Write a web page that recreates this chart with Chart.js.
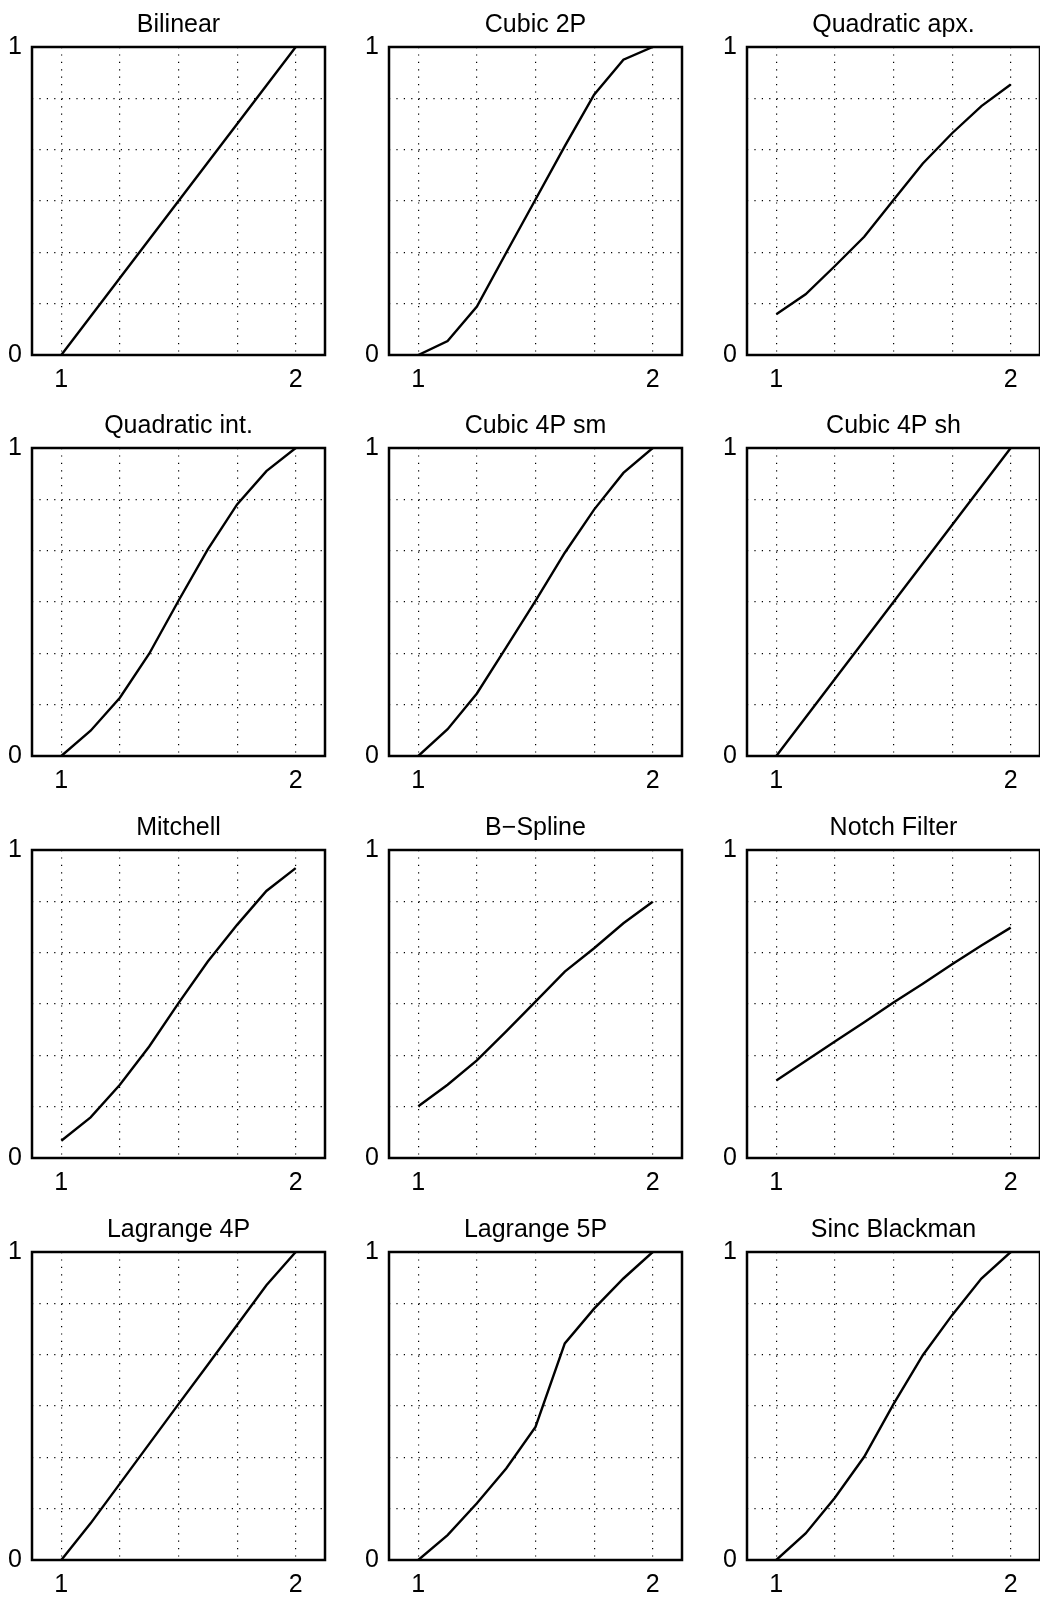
<!DOCTYPE html>
<html>
<head>
<meta charset="utf-8">
<script src="https://cdn.jsdelivr.net/npm/chart.js@4.4.1/dist/chart.umd.min.js"></script>
<style>
html, body { margin: 0; padding: 0; background: #fff; overflow: hidden; width: 1040px; height: 1606px; }
#wrap { position: relative; width: 1040px; height: 1606px; overflow: hidden; }
canvas { position: absolute; }
</style>
</head>
<body>
<div id="wrap"></div>
<script>
// ---- data ----
const panelTitles = ['Bilinear', 'Cubic 2P', 'Quadratic apx.', 'Quadratic int.', 'Cubic 4P sm', 'Cubic 4P sh',
                     'Mitchell', 'B\u2212Spline', 'Notch Filter', 'Lagrange 4P', 'Lagrange 5P', 'Sinc Blackman'];
const xPositions = [1, 1.125, 1.25, 1.375, 1.5, 1.625, 1.75, 1.875, 2];
const bilinear     = [0, 0.125, 0.25, 0.375, 0.5, 0.625, 0.75, 0.875, 1];
const cubic2P      = [0, 0.045, 0.157, 0.332, 0.505, 0.678, 0.845, 0.959, 1];
const quadraticApx = [0.132, 0.197, 0.289, 0.384, 0.503, 0.622, 0.72, 0.808, 0.878];
const quadraticInt = [0, 0.082, 0.189, 0.332, 0.504, 0.671, 0.817, 0.925, 1];
const cubic4Psm    = [0, 0.087, 0.203, 0.353, 0.504, 0.66, 0.8, 0.919, 1];
const cubic4Psh    = [0, 0.125, 0.25, 0.375, 0.5, 0.625, 0.75, 0.875, 1];
const mitchell     = [0.056, 0.132, 0.238, 0.362, 0.503, 0.638, 0.757, 0.867, 0.941];
const bSpline      = [0.168, 0.238, 0.317, 0.411, 0.508, 0.605, 0.681, 0.762, 0.832];
const notchFilter  = [0.252, 0.315, 0.378, 0.441, 0.505, 0.566, 0.629, 0.69, 0.748];
const lagrange4P   = [0, 0.119, 0.248, 0.377, 0.506, 0.634, 0.763, 0.892, 1];
const lagrange5P   = [0, 0.081, 0.184, 0.297, 0.432, 0.703, 0.816, 0.914, 1];
const sincBlackman = [0, 0.086, 0.202, 0.335, 0.506, 0.665, 0.795, 0.914, 1];
const panelSeries = [bilinear, cubic2P, quadraticApx, quadraticInt, cubic4Psm, cubic4Psh,
                     mitchell, bSpline, notchFilter, lagrange4P, lagrange5P, sincBlackman];

const xTickValues = [1, 1.25, 1.5, 1.75, 2];
const xTickLabels = ['1', '', '', '', '2'];
const yTickValues = [0, 1/6, 2/6, 3/6, 4/6, 5/6, 1];
const yTickLabels = ['0', '', '', '', '', '', '1'];
const xRange = [0.875, 2.125];
const yRange = [0, 1];

// ---- layout ----
const colLeft = [32, 389, 747];
const rowTop = [47, 448, 850, 1252];
const plotW = 293, plotH = 308;
const axisW = 40, titleH = 47, xAxisH = 46;
const FONT = "'Liberation Sans', Arial, Helvetica, sans-serif";

const framePlugin = {
  id: 'frame',
  afterDraw(chart) {
    const { ctx, chartArea: a } = chart;
    ctx.save();
    ctx.strokeStyle = '#000';
    ctx.lineWidth = 2.5;
    ctx.strokeRect(a.left, a.top, a.right - a.left, a.bottom - a.top);
    ctx.restore();
  }
};

const wrap = document.getElementById('wrap');
const gridOpts = { color: '#000', lineWidth: 1.2, drawTicks: false };
const borderOpts = { display: false, dash: [1.2, 6.2] };
const tickFont = { family: FONT, size: 25 };

panelTitles.forEach((title, i) => {
  const c = i % 3, r = Math.floor(i / 3);
  const L = colLeft[c], T = rowTop[r];
  const rp = Math.min(6, 1040 - (L + plotW));
  const cw = axisW + plotW + rp, ch = titleH + plotH + xAxisH;
  const cv = document.createElement('canvas');
  cv.width = cw; cv.height = ch;
  cv.style.left = (L - axisW) + 'px';
  cv.style.top = (T - titleH) + 'px';
  cv.style.width = cw + 'px';
  cv.style.height = ch + 'px';
  wrap.appendChild(cv);

  const ys = panelSeries[i];
  new Chart(cv, {
    type: 'line',
    data: {
      datasets: [{
        data: xPositions.map((x, k) => ({ x: x, y: ys[k] })),
        borderColor: '#000',
        borderWidth: 2.4,
        pointRadius: 0,
        tension: 0,
        fill: false
      }]
    },
    options: {
      responsive: false,
      animation: false,
      devicePixelRatio: 1,
      layout: { padding: { left: 0, top: 0, right: rp, bottom: 0 } },
      plugins: {
        legend: { display: false },
        tooltip: { enabled: false },
        title: {
          display: true, text: title, fullSize: false, color: '#000',
          font: { family: FONT, size: 25, weight: 'normal', lineHeight: 1.2 },
          padding: { top: 10, bottom: 7 }
        }
      },
      scales: {
        x: {
          type: 'linear', min: xRange[0], max: xRange[1],
          afterBuildTicks: s => { s.ticks = xTickValues.map(v => ({ value: v })); },
          afterFit: s => { s.height = xAxisH; },
          ticks: { autoSkip: false, maxRotation: 0, padding: 10, color: '#000', font: tickFont,
                   callback: (v, k) => xTickLabels[k] },
          grid: gridOpts,
          border: borderOpts
        },
        y: {
          type: 'linear', min: yRange[0], max: yRange[1],
          afterBuildTicks: s => { s.ticks = yTickValues.map(v => ({ value: v })); },
          afterFit: s => { s.width = axisW; },
          ticks: { autoSkip: false, padding: 10, color: '#000', font: tickFont,
                   callback: (v, k) => yTickLabels[k] },
          grid: gridOpts,
          border: borderOpts
        }
      }
    },
    plugins: [framePlugin]
  });
});
</script>
</body>
</html>
